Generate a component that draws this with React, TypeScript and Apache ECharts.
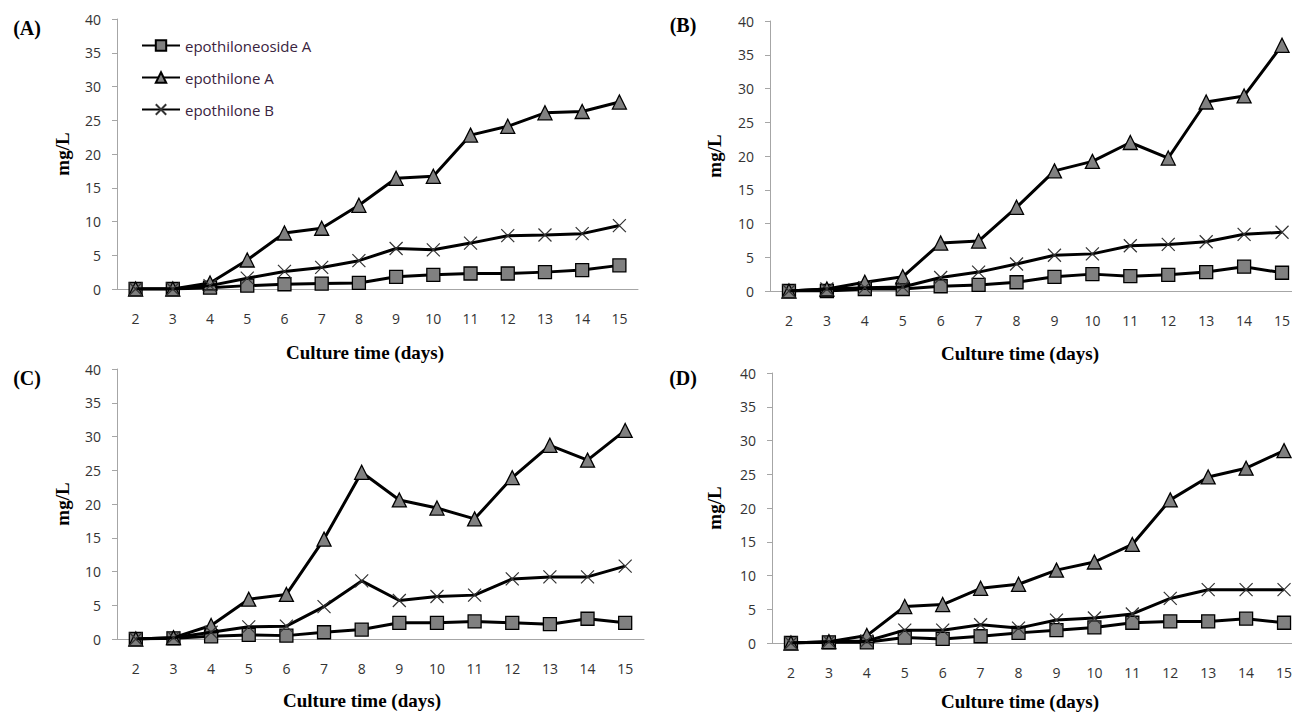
import React, { useEffect, useRef } from "react";
import * as echarts from "echarts";

const days = ["2", "3", "4", "5", "6", "7", "8", "9", "10", "11", "12", "13", "14", "15"];
const yTicks = [0, 40, 5];
const seriesNames = ["epothiloneoside A", "epothilone A", "epothilone B"];
const panelLabels = ["(A)", "(B)", "(C)", "(D)"];

// Panel A
const aSide = [0, 0, 0.2, 0.5, 0.7, 0.8, 0.9, 1.8, 2.1, 2.3, 2.3, 2.5, 2.8, 3.5];
const aEpoA = [0, 0, 0.9, 4.3, 8.3, 9.0, 12.4, 16.4, 16.7, 22.8, 24.1, 26.1, 26.3, 27.7];
const aEpoB = [0, 0, 0.5, 1.6, 2.6, 3.2, 4.2, 6.0, 5.8, 6.8, 7.9, 8.0, 8.2, 9.4];
// Panel B
const bSide = [0, 0, 0.3, 0.3, 0.7, 0.9, 1.3, 2.1, 2.5, 2.2, 2.4, 2.8, 3.6, 2.7];
const bEpoA = [0, 0.3, 1.3, 2.1, 7.1, 7.4, 12.4, 17.8, 19.2, 22.0, 19.7, 28.0, 28.9, 36.4];
const bEpoB = [0, 0.3, 0.5, 0.6, 2.0, 2.8, 4.0, 5.3, 5.5, 6.7, 6.9, 7.3, 8.4, 8.7];
// Panel C
const cSide = [0, 0.1, 0.4, 0.6, 0.5, 1.0, 1.4, 2.4, 2.4, 2.6, 2.4, 2.2, 3.0, 2.4];
const cEpoA = [0, 0.2, 2.0, 5.9, 6.6, 14.8, 24.7, 20.6, 19.4, 17.8, 23.9, 28.7, 26.5, 30.9];
const cEpoB = [0, 0.2, 1.0, 1.8, 1.9, 4.8, 8.6, 5.7, 6.3, 6.5, 8.9, 9.2, 9.2, 10.8];
// Panel D
const dSide = [0, 0.1, 0.1, 0.8, 0.6, 1.0, 1.5, 1.9, 2.3, 3.0, 3.2, 3.2, 3.6, 3.0];
const dEpoA = [0, 0.2, 1.1, 5.4, 5.7, 8.1, 8.7, 10.8, 12.0, 14.6, 21.2, 24.6, 25.9, 28.5];
const dEpoB = [0, 0.2, 0.3, 1.9, 1.9, 2.7, 2.2, 3.4, 3.7, 4.3, 6.6, 7.9, 7.9, 7.9];

const panels = [
  [aSide, aEpoA, aEpoB],
  [bSide, bEpoA, bEpoB],
  [cSide, cEpoA, cEpoB],
  [dSide, dEpoA, dEpoB],
];

const grids = [
  { left: 117, top: 19, width: 521, height: 270 },
  { left: 770, top: 21, width: 531, height: 270 },
  { left: 117, top: 369, width: 527, height: 270 },
  { left: 772, top: 373, width: 531, height: 270 },
];

const SANS = '"Open Sans", "Noto Sans", sans-serif';
const SERIF = '"Liberation Serif", "Times New Roman", serif';

export default function App() {
  const ref = useRef<HTMLDivElement>(null);
  useEffect(() => {
    if (!ref.current) return;
    const chart = echarts.init(ref.current, null, { renderer: "svg" });

    const xAxes = grids.map((_, i) => ({
      type: "category",
      gridIndex: i,
      data: days,
      boundaryGap: true,
      axisLine: { lineStyle: { color: "#a6a6a6", width: 1 } },
      axisTick: { show: false },
      axisLabel: { margin: 22, fontSize: 14, color: "#333", fontFamily: SANS, interval: 0 },
      splitLine: { show: false },
    }));
    const yAxes = grids.map((_, i) => ({
      type: "value",
      gridIndex: i,
      min: yTicks[0],
      max: yTicks[1],
      interval: yTicks[2],
      axisLine: { show: true, lineStyle: { color: "#a6a6a6", width: 1 } },
      axisTick: { show: true, length: 5, lineStyle: { color: "#a6a6a6" } },
      axisLabel: { margin: 16, fontSize: 14, color: "#333", fontFamily: SANS },
      splitLine: { show: false },
    }));

    const symbols = ["rect", "triangle", "path://M0,0L10,10M0,10L10,0"];
    const sizes = [13, 14, 13];
    const series: any[] = [];
    panels.forEach((p, i) => {
      p.forEach((vals, k) => {
        series.push({
          type: "line",
          name: seriesNames[k],
          xAxisIndex: i,
          yAxisIndex: i,
          data: vals,
          symbol: symbols[k],
          symbolSize: sizes[k],
          showAllSymbol: true,
          lineStyle: { color: "#000", width: 3 },
          itemStyle:
            k === 2
              ? { color: "#000", borderColor: "#333", borderWidth: 1.2 }
              : { color: "#808080", borderColor: "#000", borderWidth: 1.3 },
          emphasis: { disabled: true },
          z: 2 + k,
        });
      });
    });

    const graphic: any[] = [];
    const labelPos = [
      [27, 28],
      [683, 25],
      [27, 378],
      [683, 378],
    ];
    panelLabels.forEach((t, i) => {
      graphic.push({
        type: "text",
        x: labelPos[i][0],
        y: labelPos[i][1],
        style: { text: t, font: `bold 20px ${SERIF}`, fill: "#000", textAlign: "center", textVerticalAlign: "middle" },
      });
    });
    const ylabPos = [
      [62, 154],
      [714, 156],
      [62, 504],
      [714, 508],
    ];
    ylabPos.forEach((pp) => {
      graphic.push({
        type: "text",
        x: pp[0],
        y: pp[1],
        rotation: Math.PI / 2,
        style: { text: "mg/L", font: `bold 19px ${SERIF}`, fill: "#000", textAlign: "center", textVerticalAlign: "middle" },
      });
    });
    const xtPos = [
      [365, 352],
      [1020, 353],
      [362, 700],
      [1020, 701],
    ];
    xtPos.forEach((pp) => {
      graphic.push({
        type: "text",
        x: pp[0],
        y: pp[1],
        style: {
          text: "Culture time (days)",
          font: `bold 19px ${SERIF}`,
          fill: "#000",
          textAlign: "center",
          textVerticalAlign: "middle",
        },
      });
    });

    chart.setOption({
      animation: false,
      backgroundColor: "#fff",
      grid: grids.map((g) => ({ ...g, containLabel: false })),
      xAxis: xAxes,
      yAxis: yAxes,
      legend: {
        orient: "vertical",
        left: 136,
        top: 33,
        itemWidth: 38,
        itemHeight: 13,
        itemGap: 17,
        data: seriesNames,
        textStyle: { fontSize: 15, color: "#3a2440", fontFamily: SANS },
        selectedMode: false,
      },
      graphic,
      series,
    });
    return () => chart.dispose();
  }, []);

  return (
    <div style={{ position: "absolute", left: 0, top: 0, width: 1292, height: 713, overflow: "hidden", background: "#fff" }}>
      <div ref={ref} style={{ width: 1310, height: 713 }} />
    </div>
  );
}
